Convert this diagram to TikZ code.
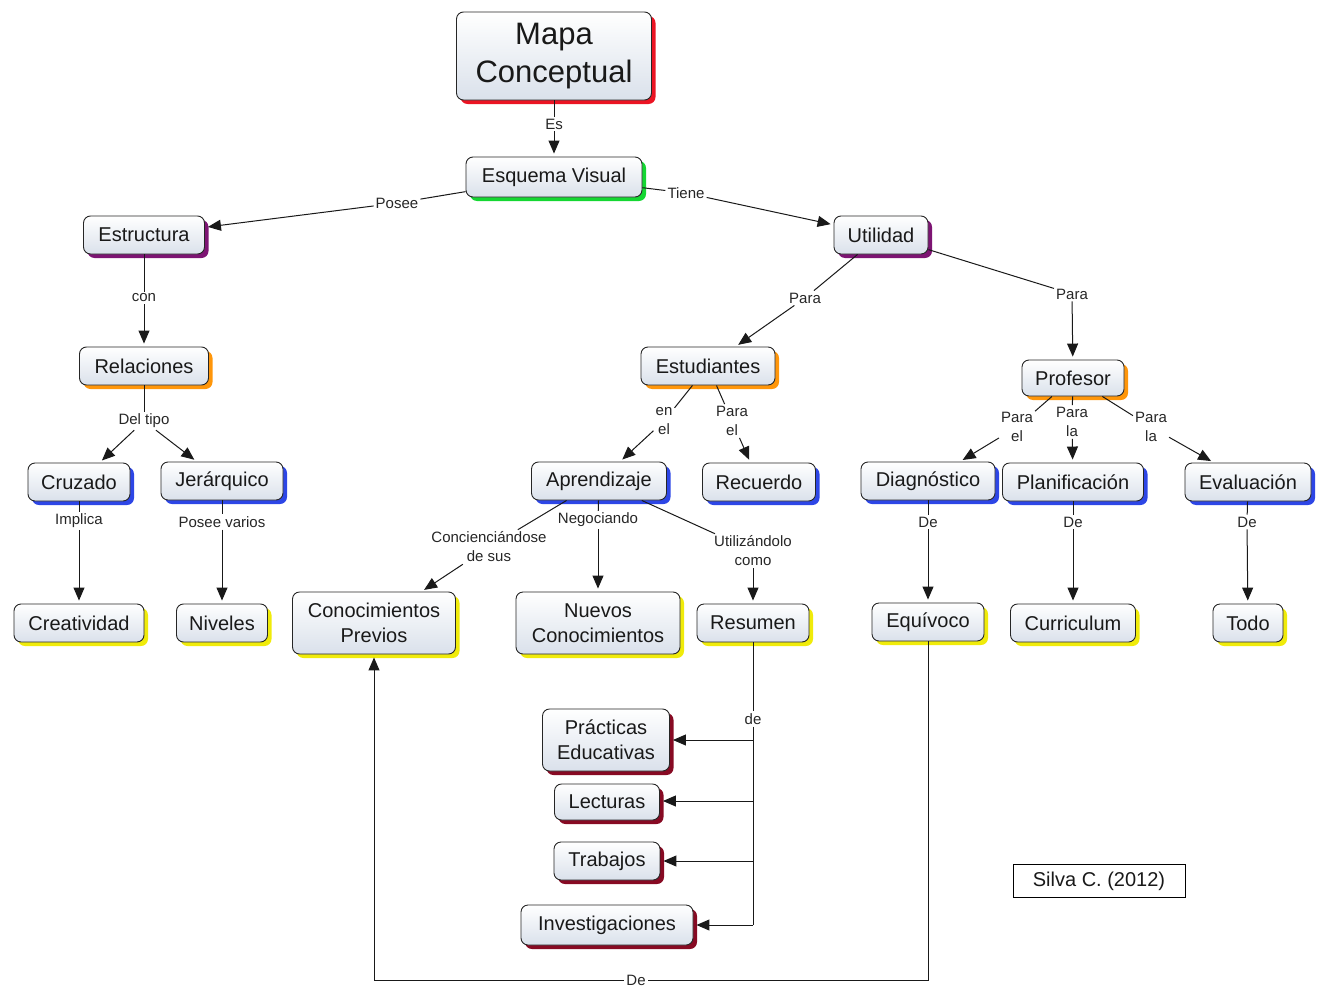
\documentclass[tikz,border=0pt]{standalone}
\usepackage{fontspec}
\setmainfont{Liberation Sans}
\usetikzlibrary{arrows.meta,shadows}
\definecolor{shRed}{RGB}{235,20,35}
\definecolor{shGreen}{RGB}{20,215,50}
\definecolor{shPurple}{RGB}{125,20,115}
\definecolor{shOrange}{RGB}{255,150,10}
\definecolor{shBlue}{RGB}{45,70,230}
\definecolor{shYellow}{RGB}{240,235,10}
\definecolor{shDark}{RGB}{135,10,35}
\definecolor{boxbot}{RGB}{218,225,235}
\begin{document}
\begin{tikzpicture}[x=1pt,y=-1pt,
  concept/.style={draw=black!85, line width=0.9pt, rounded corners=7pt,
    top color=white, bottom color=boxbot, text=black!90,
    font=\fontsize{20}{25}\selectfont, align=center,
    inner xsep=4pt, inner ysep=3pt, minimum height=38pt,
    general shadow={fill=#1, shadow xshift=4pt, shadow yshift=-4pt}},
  lab/.style={font=\fontsize{15}{19}\selectfont, text=black!85, align=center, inner sep=2pt},
  link/.style={line width=1pt, draw=black!90},
  arr/.style={link, -{Triangle[length=13pt,width=11pt]}, shorten >=3pt}
]
\useasboundingbox (0,0) rectangle (1325,990);

% concepts
\node[concept=shRed, minimum width=195pt, minimum height=88pt,
      font=\fontsize{31}{38}\selectfont] (mapa) at (554,56) {Mapa\\Conceptual};
\node[concept=shGreen, minimum width=176pt, minimum height=40pt] (esq) at (554,177) {Esquema Visual};
\node[concept=shPurple, minimum width=121pt] (estr) at (144,235) {Estructura};
\node[concept=shPurple, minimum width=94pt] (util) at (881,235) {Utilidad};
\node[concept=shOrange, minimum width=129pt] (rel) at (144,366) {Relaciones};
\node[concept=shOrange, minimum width=134pt] (estud) at (708,366) {Estudiantes};
\node[concept=shOrange, minimum width=102pt, minimum height=36pt] (prof) at (1073,378) {Profesor};
\node[concept=shBlue, minimum width=102pt] (cruz) at (79,482) {Cruzado};
\node[concept=shBlue, minimum width=122pt] (jer) at (222,481) {Jerárquico};
\node[concept=shBlue, minimum width=135pt] (apr) at (599,481) {Aprendizaje};
\node[concept=shBlue, minimum width=113pt] (rec) at (759,482) {Recuerdo};
\node[concept=shBlue, minimum width=134pt] (diag) at (928,481) {Diagnóstico};
\node[concept=shBlue, minimum width=141pt] (plan) at (1073,482) {Planificación};
\node[concept=shBlue, minimum width=126pt] (eval) at (1248,482) {Evaluación};
\node[concept=shYellow, minimum width=130pt] (crea) at (79,623) {Creatividad};
\node[concept=shYellow, minimum width=91pt] (niv) at (222,623) {Niveles};
\node[concept=shYellow, minimum width=163pt, minimum height=62pt] (prev) at (374,623) {Conocimientos\\Previos};
\node[concept=shYellow, minimum width=164pt, minimum height=62pt] (nuev) at (598,623) {Nuevos\\Conocimientos};
\node[concept=shYellow, minimum width=112pt] (res) at (753,623) {Resumen};
\node[concept=shYellow, minimum width=112pt] (equ) at (928,622) {Equívoco};
\node[concept=shYellow, minimum width=125pt] (curr) at (1073,623) {Curriculum};
\node[concept=shYellow, minimum width=70pt] (todo) at (1248,623) {Todo};
\node[concept=shDark, minimum width=127pt, minimum height=62pt] (prac) at (606,740) {Prácticas\\Educativas};
\node[concept=shDark, minimum width=105pt, minimum height=36pt] (lect) at (607,802) {Lecturas};
\node[concept=shDark, minimum width=106pt] (trab) at (607,861) {Trabajos};
\node[concept=shDark, minimum width=172pt, minimum height=40pt] (inv) at (607,925) {Investigaciones};

% author box
\node[draw=black, line width=0.9pt, font=\fontsize{20}{25}\selectfont, text=black!90,
      minimum width=172pt, minimum height=33pt, inner sep=2pt] (autor) at (1099,881) {Silva C. (2012)};

% linking phrases
\node[lab] (lEs) at (554,124) {Es};
\node[lab] (lPosee) at (397,203) {Posee};
\node[lab] (lTiene) at (686,193) {Tiene};
\node[lab] (lCon) at (144,298) {con};
\node[lab] (lParaE) at (805,298) {Para};
\node[lab] (lParaP) at (1072,294) {Para};
\node[lab] (lTipo) at (144,421) {Del tipo};
\node[lab] (lEnEl) at (664,421) {en\\el};
\node[lab] (lParaEl) at (732,421) {Para\\el};
\node[lab] (lParaDiag) at (1017,427) {Para\\el};
\node[lab] (lParaPlan) at (1072,422) {Para\\la};
\node[lab] (lParaEval) at (1151,427) {Para\\la};
\node[lab] (lImplica) at (79,521) {Implica};
\node[lab] (lVarios) at (222,522) {Posee varios};
\node[lab] (lConc) at (489,547) {Concienciándose\\de sus};
\node[lab] (lNeg) at (598,520) {Negociando};
\node[lab] (lUtil) at (753,551) {Utilizándolo\\como};
\node[lab] (lDeDiag) at (928,522) {De};
\node[lab] (lDePlan) at (1073,522) {De};
\node[lab] (lDeEval) at (1247,522) {De};
\node[lab] (lDeRes) at (753,719) {de};
\node[lab] (lDeEqu) at (636,980) {De};

% junctions on the "de" branch
\coordinate (j1) at (753,740);
\coordinate (j2) at (753,801);
\coordinate (j3) at (753,861);
\coordinate (j4) at (753,925);

% connectors
\draw[link] (mapa) -- (lEs);  \draw[arr] (lEs) -- (esq);
\draw[link] (esq) -- (lPosee); \draw[arr] (lPosee) -- (estr);
\draw[link] (esq) -- (lTiene); \draw[arr] (lTiene) -- (util);
\draw[link] (estr) -- (lCon);  \draw[arr] (lCon) -- (rel);
\draw[link] (util) -- (lParaE); \draw[arr] (lParaE) -- (estud);
\draw[link] (util) -- (lParaP); \draw[arr] (lParaP) -- (prof);
\draw[link] (rel) -- (lTipo);
\draw[arr] (lTipo) -- (cruz);
\draw[arr] (lTipo) -- (jer);
\draw[link] (cruz) -- (lImplica); \draw[arr] (lImplica) -- (crea);
\draw[link] (jer) -- (lVarios);   \draw[arr] (lVarios) -- (niv);
\draw[link] (estud) -- (lEnEl);   \draw[arr] (lEnEl) -- (apr);
\draw[link] (estud) -- (lParaEl); \draw[arr] (lParaEl) -- (rec);
\draw[link] (apr) -- (lConc); \draw[arr] (lConc) -- (prev);
\draw[link] (apr) -- (lNeg);  \draw[arr] (lNeg) -- (nuev);
\draw[link] (apr) -- (lUtil); \draw[arr] (lUtil) -- (res);
\draw[link] (prof) -- (lParaDiag); \draw[arr] (lParaDiag) -- (diag);
\draw[link] (prof) -- (lParaPlan); \draw[arr] (lParaPlan) -- (plan);
\draw[link] (prof) -- (lParaEval); \draw[arr] (lParaEval) -- (eval);
\draw[link] (diag) -- (lDeDiag); \draw[arr] (lDeDiag) -- (equ);
\draw[link] (plan) -- (lDePlan); \draw[arr] (lDePlan) -- (curr);
\draw[link] (eval) -- (lDeEval); \draw[arr] (lDeEval) -- (todo);
\draw[link] (res) -- (lDeRes);
\draw[link] (lDeRes) -- (j4);
\draw[arr] (j1) -- (j1 -| prac.east);
\draw[arr] (j2) -- (j2 -| lect.east);
\draw[arr] (j3) -- (j3 -| trab.east);
\draw[arr] (j4) -- (j4 -| inv.east);
\draw[link] (equ.south) |- (lDeEqu);
\draw[arr] (lDeEqu) -| (prev.south);
\end{tikzpicture}
\end{document}
